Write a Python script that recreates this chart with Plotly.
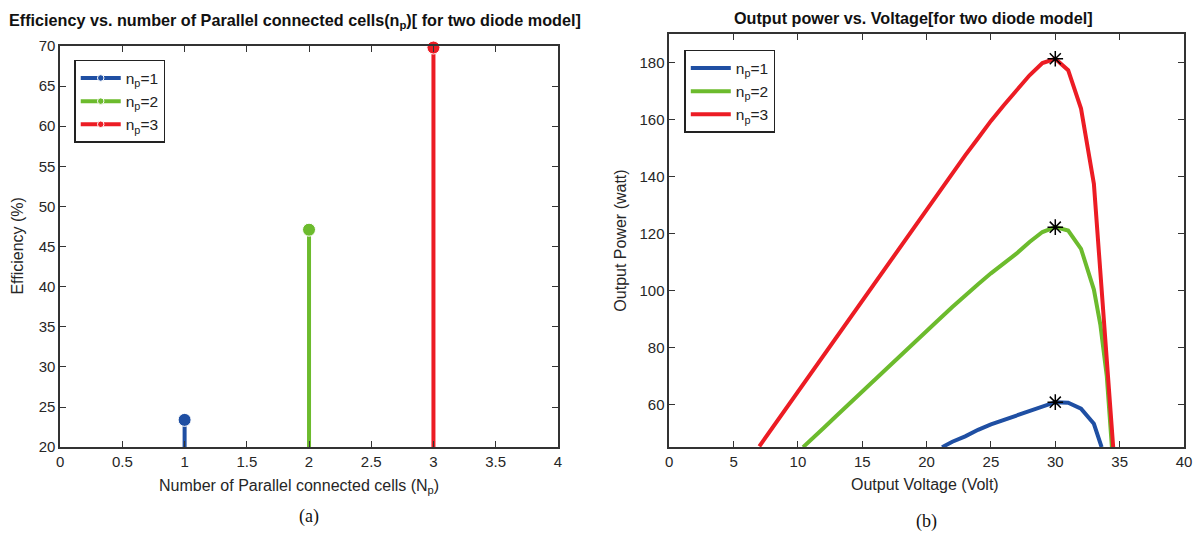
import plotly.graph_objects as go

# ---- data: (a) efficiency stems ----
np_cells = [1, 2, 3]
efficiency = [23.4, 47.1, 69.8]
stem_base = 20
series_names = ["n<sub>p</sub>=1", "n<sub>p</sub>=2", "n<sub>p</sub>=3"]
colors = ["#1f4fa3", "#6cbb2d", "#ec1c24"]

# ---- data: (b) output power vs voltage ----
v_np1 = [21.2, 22, 23, 24, 25, 26, 27, 28, 29, 30, 31, 32, 33, 33.6]
p_np1 = [45.0, 46.9, 48.8, 51.1, 53.0, 54.6, 56.2, 57.7, 59.5, 60.8, 60.6, 58.5, 53.2, 45.0]

v_np2 = [10.4, 11, 12, 13, 14, 15, 16, 17, 18, 19, 20, 21, 22, 23, 24, 25, 26, 27, 28, 29, 30, 31, 32, 33, 33.5, 34, 34.4]
p_np2 = [45.0, 47.4, 51.7, 56.0, 60.3, 64.5, 68.8, 73.1, 77.3, 81.5, 85.8, 90.0, 94.2, 98.3, 102.2, 106.0,
         109.5, 113.0, 117.0, 120.5, 122.2, 121.0, 114.6, 100.3, 88.0, 70.0, 45.0]

v_np3 = [7, 8, 9, 10, 11, 12, 13, 14, 15, 16, 17, 18, 19, 20, 21, 22, 23, 24, 25, 26, 27, 28, 29, 30, 31, 32, 33, 33.5, 34, 34.5]
p_np3 = [45.3, 51.7, 58.2, 64.6, 71.1, 77.6, 84.0, 90.4, 96.8, 103.1, 109.5, 115.9, 122.3, 128.7, 135.0,
         141.2, 147.4, 153.4, 159.5, 165.0, 170.5, 175.5, 179.8, 181.3, 177.3, 163.8, 137.4, 106.0, 76.0, 45.0]

mpp_v = [30, 30, 30]
mpp_p = [60.8, 122.2, 181.3]

fig = go.Figure()

# (a) stems
for xv, yv, name, c in zip(np_cells, efficiency, series_names, colors):
    fig.add_trace(go.Scatter(
        x=[xv, xv], y=[stem_base, yv], mode="lines+markers", name=name,
        line=dict(color=c, width=4),
        marker=dict(size=[0, 13], color=c, symbol="circle", opacity=1),
        xaxis="x", yaxis="y", legend="legend", cliponaxis=False))

# (b) curves
for vv, pp, name, c in zip([v_np1, v_np2, v_np3], [p_np1, p_np2, p_np3], series_names, colors):
    fig.add_trace(go.Scatter(
        x=vv, y=pp, mode="lines", name=name, line=dict(color=c, width=4),
        xaxis="x2", yaxis="y2", legend="legend2"))

fig.add_trace(go.Scatter(
    x=mpp_v, y=mpp_p, mode="markers", showlegend=False,
    marker=dict(symbol="asterisk-open", size=13, color="black", line=dict(color="black", width=1.5)),
    xaxis="x2", yaxis="y2"))

# the page shows the figure inside a small body margin: map screen pixels to paper fractions
OX, OY, PW, PH = 6, 8, 1184, 526

def px_x(p):
    return (p - OX) / PW

def px_y(p):
    return 1 - (p - OY) / PH

axis_common = dict(showline=True, linecolor="#333333", linewidth=1.5, mirror="ticks",
                   ticks="inside", ticklen=6, tickcolor="#333333", showgrid=False, zeroline=False,
                   tickfont=dict(family="Liberation Sans, Arial", size=15, color="#262626"))

legend_common = dict(xanchor="left", yanchor="top", bgcolor="white", bordercolor="#222222",
                     borderwidth=1.5, font=dict(family="Liberation Sans, Arial", size=15.5, color="#222222"),
                     tracegroupgap=0, itemwidth=40)

fig.update_layout(
    width=1200, height=542, margin=dict(l=0, r=0, t=0, b=0),
    paper_bgcolor="white", plot_bgcolor="white",
    font=dict(family="Liberation Sans, Arial", color="#262626"),
    xaxis=dict(domain=[px_x(62), px_x(558)], range=[0, 4], tickvals=[0, 0.5, 1, 1.5, 2, 2.5, 3, 3.5, 4],
               ticktext=["0", "0.5", "1", "1.5", "2", "2.5", "3", "3.5", "4"], anchor="y", **axis_common),
    yaxis=dict(domain=[px_y(447), px_y(45)], range=[20, 70], dtick=5, anchor="x", **axis_common),
    xaxis2=dict(domain=[px_x(669), px_x(1182)], range=[0, 40], dtick=5, anchor="y2", **axis_common),
    yaxis2=dict(domain=[px_y(447), px_y(33)], range=[45, 190], tickvals=[60, 80, 100, 120, 140, 160, 180],
                anchor="x2", **axis_common),
    legend=dict(x=px_x(76), y=px_y(59), **legend_common),
    legend2=dict(x=px_x(684), y=px_y(49), **legend_common),
    showlegend=True,
)

ann = [
    dict(text="<b>Efficiency vs. number of Parallel connected cells(n<sub>p</sub>)[ for two diode model]</b>",
         x=px_x(296), y=px_y(20), font=dict(size=16.2, color="#111111")),
    dict(text="<b>Output power vs. Voltage[for two diode model]</b>",
         x=px_x(912), y=px_y(17), font=dict(size=16.2, color="#111111")),
    dict(text="Number of Parallel connected cells (N<sub>p</sub>)", x=px_x(300), y=px_y(486),
         font=dict(size=16, color="#262626")),
    dict(text="Output Voltage (Volt)", x=px_x(924), y=px_y(484), font=dict(size=16, color="#262626")),
    dict(text="Efficiency (%)", x=px_x(20), y=px_y(245), textangle=-90, font=dict(size=16, color="#262626")),
    dict(text="Output Power (watt)", x=px_x(620), y=px_y(240), textangle=-90, font=dict(size=16, color="#262626")),
    dict(text="(a)", x=px_x(310), y=px_y(516), font=dict(family="Liberation Serif, Times New Roman", size=18, color="#111111")),
    dict(text="(b)", x=px_x(925), y=px_y(521), font=dict(family="Liberation Serif, Times New Roman", size=18, color="#111111")),
]
for a in ann:
    a.update(xref="paper", yref="paper", showarrow=False, xanchor="center", yanchor="middle")
fig.update_layout(annotations=ann)

fig.write_html("out.html")
